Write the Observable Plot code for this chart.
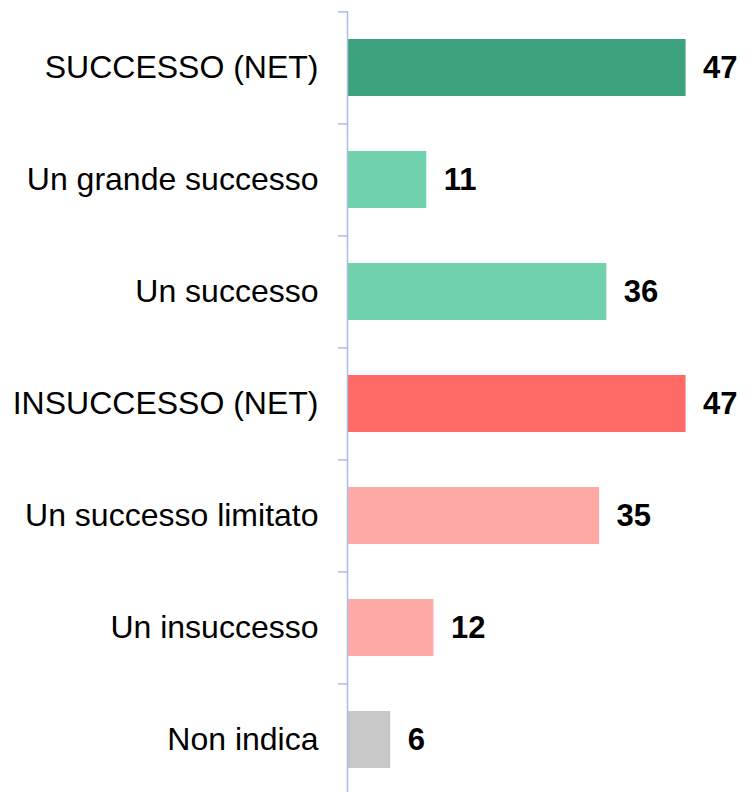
<!DOCTYPE html>
<html>
<head>
<meta charset="utf-8">
<script src="https://cdn.jsdelivr.net/npm/d3@7"></script>
<script src="https://cdn.jsdelivr.net/npm/@observablehq/plot@0.6"></script>
<style>
  html, body { margin: 0; padding: 0; background: #ffffff; }
</style>
</head>
<body>
<div id="chart"></div>
<script>
const categories = [
  "SUCCESSO (NET)",
  "Un grande successo",
  "Un successo",
  "INSUCCESSO (NET)",
  "Un successo limitato",
  "Un insuccesso",
  "Non indica"
];
const values = [47, 11, 36, 47, 35, 12, 6];
const colors = ["#3da37e", "#70d1ad", "#70d1ad", "#ff6966", "#ffaaa7", "#ffaaa7", "#c8c8c8"];

const data = categories.map((c, i) => ({label: c, value: values[i], color: colors[i]}));

const W = 754, H = 792, yTop = 11, yBottom = 796;
const step = (yBottom - yTop) / categories.length;
const axisColor = "#a6bde8";

const chart = Plot.plot({
  width: W,
  height: H,
  marginLeft: 347,
  marginRight: 0,
  marginTop: 11,
  marginBottom: 0,
  style: {fontFamily: "'Liberation Sans', Arial, sans-serif", background: "#ffffff", color: "#000000"},
  x: {domain: [0, 56.5], axis: null},
  y: {domain: categories, range: [yTop, yBottom], paddingInner: 0.49, paddingOuter: 0.245, align: 0.5, label: null},
  color: {type: "identity"},
  marks: [
    Plot.barX(data, {x: "value", y: "label", fill: "color"}),
    Plot.ruleX([0], {stroke: axisColor, strokeWidth: 1.5}),
    Plot.axisY({tickSize: 0, tickPadding: 29, fontSize: 32, fill: "#000000", label: null}),
    Plot.axisY({text: null, tickSize: 9, dy: -step / 2, stroke: axisColor, strokeWidth: 1.5, label: null}),
    Plot.text(data, {x: "value", y: "label", text: d => String(d.value), dx: 17, textAnchor: "start", fontWeight: "bold", fontSize: 31, fill: "#000000"})
  ]
});
document.getElementById("chart").appendChild(chart);
</script>
</body>
</html>
